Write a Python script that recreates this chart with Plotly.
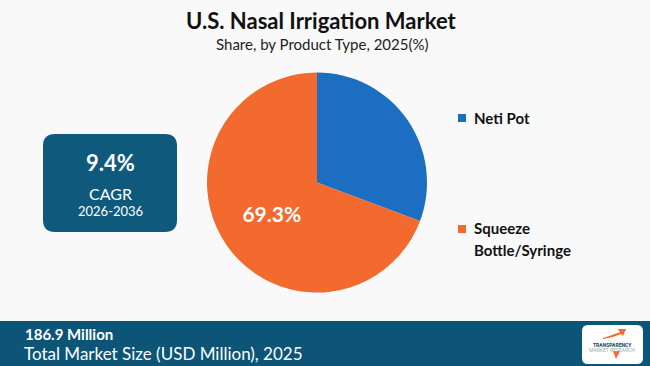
import plotly.graph_objects as go

# Data
categories = ["Neti Pot", "Squeeze Bottle/Syringe"]
shares = [30.7, 69.3]
colors = ["#1b6ec2", "#f26a2e"]
slice_text = ["", "69.3%"]

title = "U.S. Nasal Irrigation Market"
subtitle = "Share, by Product Type, 2025(%)"
cagr_value = "9.4%"
cagr_label = "CAGR"
cagr_period = "2026-2036"
market_value = "186.9 Million"
market_label = "Total Market Size (USD Million), 2025"

W, H = 650, 366
TEAL = "#0d5577"
BOX = "#0f5a7c"

fig = go.Figure()
fig.add_trace(go.Pie(
    labels=categories, values=shares, sort=False, direction="clockwise", rotation=0,
    marker=dict(colors=colors, line=dict(width=0)),
    text=slice_text, textinfo="text", textposition="inside", insidetextorientation="horizontal",
    textfont=dict(family="Lato", size=21, color="white", weight="bold"),
    domain=dict(x=[207 / W, 427 / W], y=[(H - 293) / H, (H - 72) / H]),
    showlegend=False, hoverinfo="label+percent",
))

def rrect(x0, y0, x1, y1, r):
    return (f"M{x0+r},{y0} L{x1-r},{y0} Q{x1},{y0} {x1},{y0+r} L{x1},{y1-r} Q{x1},{y1} {x1-r},{y1} "
            f"L{x0+r},{y1} Q{x0},{y1} {x0},{y1-r} L{x0},{y0+r} Q{x0},{y0} {x0+r},{y0} Z")

shapes = [
    dict(type="path", xref="x", yref="y", path=rrect(43, 134, 177, 232, 12), fillcolor=BOX, line=dict(width=0), layer="below"),
    dict(type="rect", xref="x", yref="y", x0=0, x1=W, y0=321, y1=H, fillcolor=TEAL, line=dict(width=0), layer="below"),
    dict(type="path", xref="x", yref="y", path=rrect(582, 325, 643, 364, 6), fillcolor="white", line=dict(width=0)),
    dict(type="rect", xref="x", yref="y", x0=458, x1=466, y0=114, y1=122, fillcolor=colors[0], line=dict(width=0)),
    dict(type="rect", xref="x", yref="y", x0=458, x1=466, y0=225, y1=233, fillcolor=colors[1], line=dict(width=0)),
    # logo arrow
    dict(type="path", xref="x", yref="y", path="M603,338 Q615,334 620,332 L618,329 L626,329 L623,336 L621,334 Q612,338 603,339 Z",
         fillcolor="#f26a2e", line=dict(width=0)),
    dict(type="path", xref="x", yref="y", path="M613,351 L620,351 L616,359 Z", fillcolor="#f26a2e", line=dict(width=0)),
]

def ann(x, y, text, size, color="black", bold=False, family="Lato", xanchor="center"):
    return dict(x=x, y=y, xref="x", yref="y", text=text, showarrow=False, xanchor=xanchor, yanchor="middle",
                font=dict(family=family, size=size, color=color, weight="bold" if bold else "normal"))

annotations = [
    ann(321, 20, title, 22, "#111111", True),
    ann(322, 44, subtitle, 15, "#222222"),
    ann(110, 162, cagr_value, 22, "white", True),
    ann(110, 193, cagr_label, 16, "white"),
    ann(110, 211, cagr_period, 13, "white"),
    ann(472, 118, categories[0], 15, "#111111", True, xanchor="left"),
    ann(472, 228, "Squeeze", 15, "#111111", True, xanchor="left"),
    ann(472, 250, "Bottle/Syringe", 15, "#111111", True, xanchor="left"),
    ann(23, 334, market_value, 15, "white", True, xanchor="left"),
    ann(22, 353, market_label, 17, "white", xanchor="left"),
    ann(612, 345, "TRANSPARENCY", 5, "#0d3f63", True, family="Roboto"),
    ann(612, 350, "MARKET RESEARCH", 5, "#8fb3a0", family="Roboto"),
]

fig.update_layout(
    width=W, height=H, margin=dict(l=0, r=0, t=0, b=0),
    paper_bgcolor="#f9f9f9", plot_bgcolor="rgba(0,0,0,0)",
    xaxis=dict(range=[0, W], visible=False, fixedrange=True),
    yaxis=dict(range=[H, 0], visible=False, fixedrange=True),
    shapes=shapes, annotations=annotations, showlegend=False,
)
fig.write_html("out.html")
